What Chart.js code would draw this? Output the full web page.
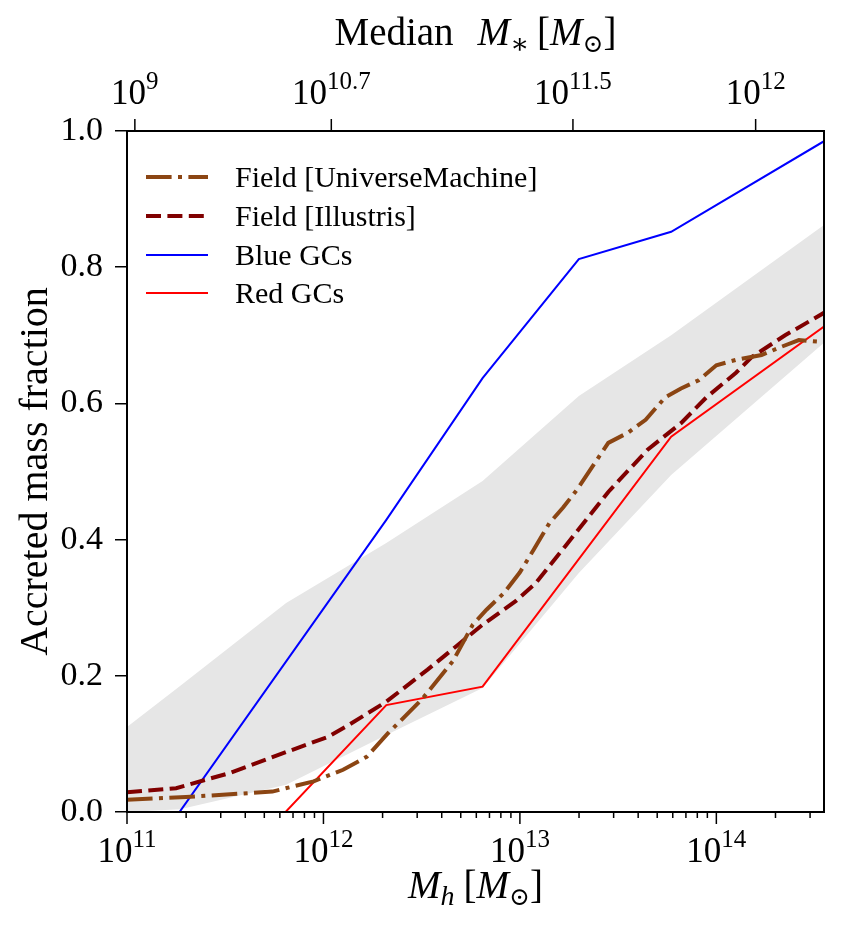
<!DOCTYPE html>
<html><head><meta charset="utf-8">
<script src="https://cdn.jsdelivr.net/npm/chart.js@4.4.0/dist/chart.umd.min.js"></script>
<style>html,body{margin:0;padding:0;background:#fff;}canvas{display:block;}</style>
</head><body>
<canvas id="c" width="854" height="944"></canvas>
<script>
// ---- data (x values are log10 of halo mass) ----
const umLogMh = [11.00, 11.30, 11.74, 11.95, 12.10, 12.22, 12.33, 12.50, 12.66, 12.76, 12.83, 12.92, 13.00, 13.07, 13.15, 13.22, 13.29, 13.38, 13.45, 13.55, 13.64, 13.74, 13.82, 13.91, 14.00, 14.10, 14.23, 14.33, 14.42, 14.548];
const umFrac  = [0.018, 0.022, 0.030, 0.045, 0.062, 0.081, 0.116, 0.165, 0.222, 0.275, 0.297, 0.322, 0.352, 0.385, 0.424, 0.447, 0.473, 0.512, 0.542, 0.557, 0.576, 0.609, 0.622, 0.634, 0.656, 0.664, 0.671, 0.683, 0.693, 0.690];
const illLogMh = [11.00, 11.25, 11.52, 11.81, 12.02, 12.13, 12.32, 12.53, 12.67, 12.81, 12.98, 13.08, 13.23, 13.45, 13.65, 13.82, 13.95, 14.10, 14.18, 14.35, 14.548];
const illFrac  = [0.029, 0.035, 0.057, 0.088, 0.110, 0.128, 0.162, 0.209, 0.242, 0.275, 0.310, 0.336, 0.390, 0.470, 0.532, 0.571, 0.609, 0.645, 0.668, 0.700, 0.733];
const blueLogMh = [11.00, 12.32, 12.81, 13.30, 13.77, 14.548];
const blueFrac  = [-0.109, 0.429, 0.637, 0.812, 0.852, 0.985];
const redLogMh = [11.00, 12.32, 12.81, 13.77, 14.548];
const redFrac  = [-0.247, 0.157, 0.184, 0.551, 0.713];
const bandLogMh = [11.00, 11.27, 11.81, 12.32, 12.81, 13.30, 13.77, 14.548];
const bandUpper = [0.125, 0.185, 0.307, 0.395, 0.486, 0.611, 0.700, 0.862];
const bandLower = [0.000, 0.004, 0.040, 0.113, 0.182, 0.351, 0.495, 0.689];
const seriesLabels = ['Field [UniverseMachine]', 'Field [Illustris]', 'Blue GCs', 'Red GCs'];
// axes
const xMinLog = 11, xMaxLog = 14.548;
const bottomTickExps = [11, 12, 13, 14];
const topTickLogMh = [11.04, 12.04, 13.27, 14.20];
const topTickExps = ['9', '10.7', '11.5', '12'];
const yTicks = [0, 0.2, 0.4, 0.6, 0.8, 1.0];

const SERIF = '"Liberation Serif", "DejaVu Serif", serif';
const pts = (xs, ys) => xs.map((v, i) => ({x: Math.pow(10, v), y: ys[i]}));

function drawRich(ctx, parts, x, y, align) {
  let w = 0;
  parts.forEach(p => {
    ctx.font = (p.italic ? 'italic ' : '') + p.size + 'px ' + SERIF;
    p.w = ctx.measureText(p.t).width;
    w += p.w + (p.gap || 0);
  });
  let cx = align === 'center' ? x - w / 2 : x;
  ctx.textAlign = 'left';
  ctx.textBaseline = 'alphabetic';
  parts.forEach(p => {
    ctx.font = (p.italic ? 'italic ' : '') + p.size + 'px ' + SERIF;
    ctx.fillText(p.t, cx, y + (p.dy || 0));
    cx += p.w + (p.gap || 0);
  });
}

const annot = {
  id: 'annot',
  afterDraw(chart) {
    const ctx = chart.ctx, a = chart.chartArea;
    const xs = chart.scales.x, xt = chart.scales.x2;
    ctx.save();
    ctx.fillStyle = '#000';
    ctx.strokeStyle = '#000';
    // frame
    ctx.lineWidth = 2;
    ctx.strokeRect(a.left, a.top, a.right - a.left, a.bottom - a.top);
    // bottom ticks (major + minor)
    ctx.lineWidth = 1.5;
    bottomTickExps.forEach(n => {
      for (let k = 1; k <= 9; k++) {
        const lv = n + Math.log10(k);
        if (lv < xMinLog - 1e-9 || lv > xMaxLog) continue;
        const px = xs.getPixelForValue(Math.pow(10, lv));
        const len = k === 1 ? 12 : 6;
        ctx.beginPath(); ctx.moveTo(px, a.bottom); ctx.lineTo(px, a.bottom + len); ctx.stroke();
      }
      const px = xs.getPixelForValue(Math.pow(10, n));
      drawRich(ctx, [{t: '10', size: 35}, {t: String(n), size: 25, dy: -15}], px, 862, 'center');
    });
    // top ticks
    topTickLogMh.forEach((lv, i) => {
      const px = xt.getPixelForValue(Math.pow(10, lv));
      ctx.beginPath(); ctx.moveTo(px, a.top); ctx.lineTo(px, a.top - 12); ctx.stroke();
      drawRich(ctx, [{t: '10', size: 35}, {t: topTickExps[i], size: 25, dy: -15}], px, 104, 'center');
    });
    // axis titles
    drawRich(ctx, [{t: 'M', size: 39, italic: true}, {t: 'h', size: 28, italic: true, dy: 7, gap: 9},
                   {t: '[', size: 39}, {t: 'M', size: 39, italic: true}, {t: '\u2299', size: 25, dy: 7}, {t: ']', size: 39}],
             (a.left + a.right) / 2, 898, 'center');
    drawRich(ctx, [{t: 'Median', size: 39, gap: 24}, {t: 'M', size: 39, italic: true}, {t: '\u2217', size: 28, dy: 8, gap: 8},
                   {t: '[', size: 39}, {t: 'M', size: 39, italic: true}, {t: '\u2299', size: 25, dy: 7}, {t: ']', size: 39}],
             (a.left + a.right) / 2, 45, 'center');
    ctx.save();
    ctx.translate(47, (a.top + a.bottom) / 2);
    ctx.rotate(-Math.PI / 2);
    drawRich(ctx, [{t: 'Accreted mass fraction', size: 40}], 0, 0, 'center');
    ctx.restore();
    // legend
    const rows = [177, 216, 255, 293];
    chart.data.datasets.slice(0, 4).forEach((ds, i) => {
      const y = rows[i];
      ctx.save();
      ctx.strokeStyle = ds.borderColor;
      ctx.lineWidth = ds.borderWidth;
      ctx.setLineDash(ds.borderDash || []);
      ctx.lineCap = 'butt';
      ctx.beginPath(); ctx.moveTo(a.left + 19, y); ctx.lineTo(a.left + 81, y); ctx.stroke();
      ctx.restore();
      drawRich(ctx, [{t: ds.label, size: 30}], a.left + 108, y + 10, 'left');
    });
    ctx.restore();
  }
};

new Chart(document.getElementById('c'), {
  type: 'line',
  data: {
    datasets: [
      {label: seriesLabels[0], data: pts(umLogMh, umFrac), borderColor: '#8B4513', borderWidth: 4,
       borderDash: [25.6, 6.4, 4, 6.4], pointRadius: 0, fill: false, order: 1},
      {label: seriesLabels[1], data: pts(illLogMh, illFrac), borderColor: '#800000', borderWidth: 4,
       borderDash: [15, 6.4], pointRadius: 0, fill: false, order: 2},
      {label: seriesLabels[2], data: pts(blueLogMh, blueFrac), borderColor: '#0000ff', borderWidth: 2,
       pointRadius: 0, fill: false, order: 3},
      {label: seriesLabels[3], data: pts(redLogMh, redFrac), borderColor: '#ff0000', borderWidth: 2,
       pointRadius: 0, fill: false, order: 4},
      {label: 'band upper', data: pts(bandLogMh, bandUpper), borderWidth: 0, borderColor: 'rgba(0,0,0,0)',
       backgroundColor: '#e6e6e6', pointRadius: 0, fill: '+1', order: 10},
      {label: 'band lower', data: pts(bandLogMh, bandLower), borderWidth: 0, borderColor: 'rgba(0,0,0,0)',
       pointRadius: 0, fill: false, order: 11}
    ]
  },
  options: {
    responsive: false,
    animation: false,
    devicePixelRatio: 1,
    layout: {padding: {left: 0, right: 30, top: 0, bottom: 0}},
    plugins: {legend: {display: false}, tooltip: {enabled: false}},
    elements: {line: {tension: 0, borderCapStyle: 'butt'}},
    scales: {
      x: {type: 'logarithmic', position: 'bottom', min: Math.pow(10, xMinLog), max: Math.pow(10, xMaxLog),
          ticks: {display: false}, grid: {display: false}, border: {display: false},
          afterFit: s => { s.height = 132; }},
      x2: {type: 'logarithmic', position: 'top', min: Math.pow(10, xMinLog), max: Math.pow(10, xMaxLog),
          ticks: {display: false}, grid: {display: false}, border: {display: false},
          afterFit: s => { s.height = 131; }},
      y: {min: 0, max: 1,
          afterBuildTicks: s => { s.ticks = yTicks.map(v => ({value: v})); },
          ticks: {callback: v => Number(v).toFixed(1), color: '#000', padding: 12,
                  font: {family: SERIF, size: 34}},
          grid: {display: true, drawOnChartArea: false, drawTicks: true, tickLength: 12, color: '#000', lineWidth: 1.5},
          border: {display: false},
          afterFit: s => { s.width = 127; }}
    }
  },
  plugins: [annot]
});
</script>
</body></html>
